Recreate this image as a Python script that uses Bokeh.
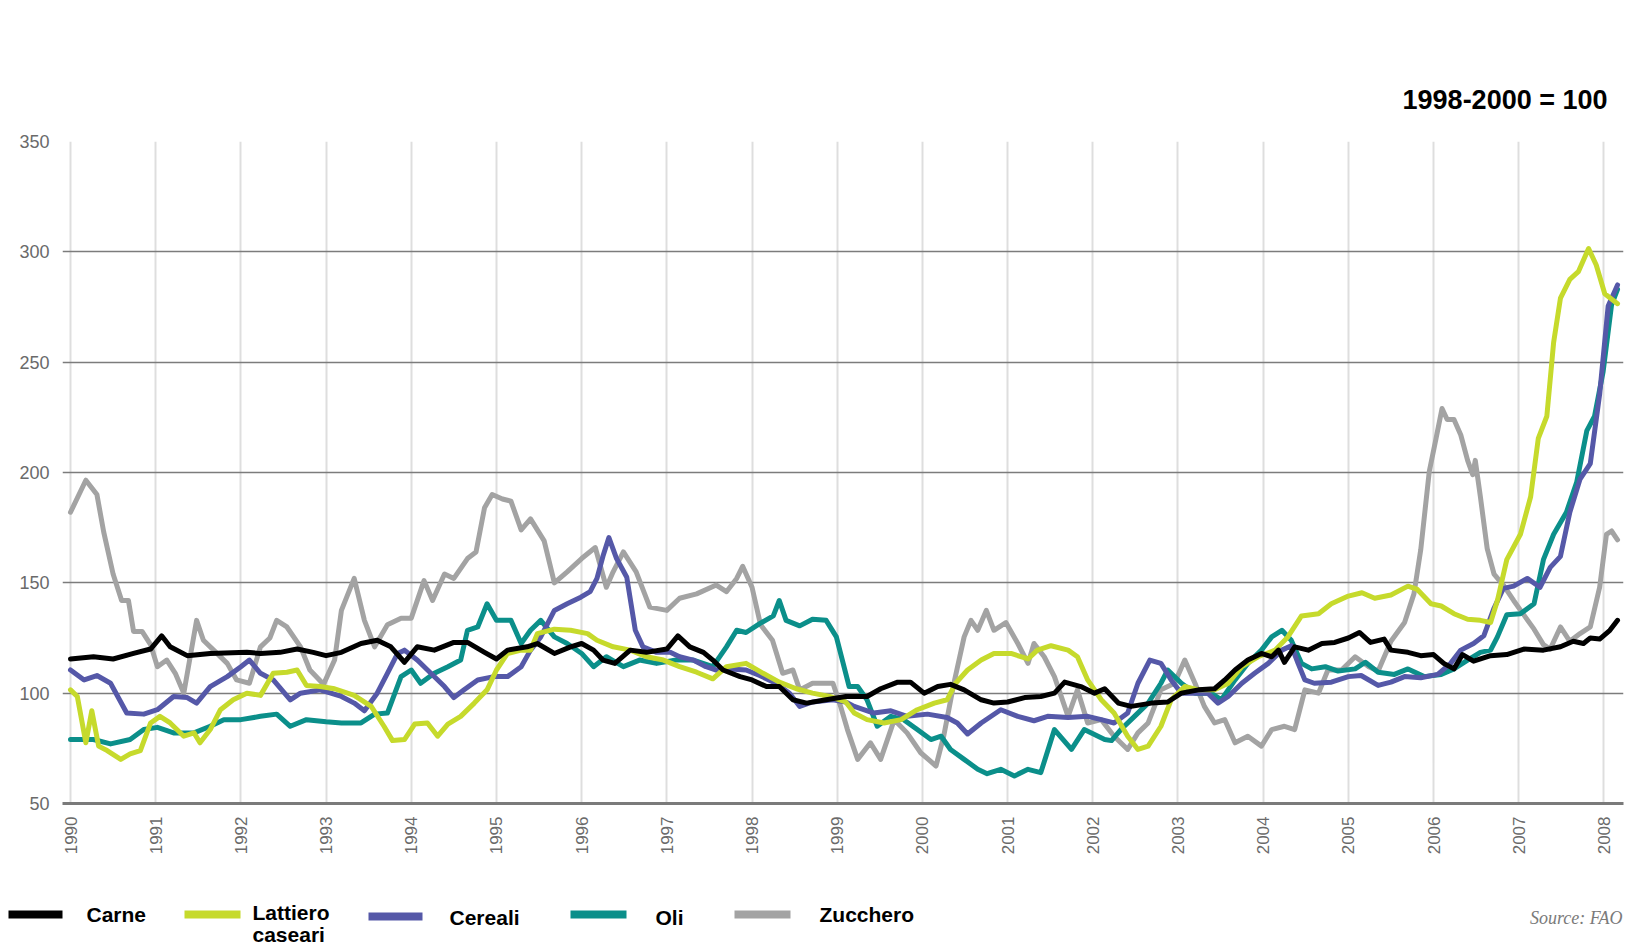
from bokeh.plotting import figure
from bokeh.layouts import column
from bokeh.models import FixedTicker, Range1d, Title
from bokeh.core.properties import value
from bokeh.embed import file_html
from bokeh.resources import INLINE

# ---------------- data (FAO food price indices, 1998-2000 = 100) ----------------
years = list(range(1990, 2009))
y_ticks = [50, 100, 150, 200, 250, 300, 350]

zucchero_t = [1990.00, 1990.18, 1990.31, 1990.39, 1990.50, 1990.60, 1990.68, 1990.74, 1990.84, 1990.94,
              1991.02, 1991.13, 1991.23, 1991.33, 1991.48, 1991.56, 1991.68, 1991.84, 1991.95, 1992.10,
              1992.23, 1992.34, 1992.42, 1992.54, 1992.70, 1992.81, 1992.97, 1993.10, 1993.18, 1993.33,
              1993.45, 1993.57, 1993.72, 1993.88, 1994.00, 1994.15, 1994.25, 1994.39, 1994.50, 1994.66,
              1994.76, 1994.86, 1994.95, 1995.07, 1995.17, 1995.29, 1995.40, 1995.56, 1995.68, 1995.83,
              1996.00, 1996.16, 1996.29, 1996.37, 1996.49, 1996.64, 1996.80, 1997.00, 1997.15, 1997.35,
              1997.58, 1997.70, 1997.82, 1997.89, 1998.00, 1998.10, 1998.24, 1998.36, 1998.48, 1998.56,
              1998.71, 1998.95, 1999.04, 1999.12, 1999.24, 1999.39, 1999.51, 1999.67, 1999.82, 1999.98,
              2000.16, 2000.25, 2000.37, 2000.49, 2000.57, 2000.65, 2000.75, 2000.84, 2000.98, 2001.12,
              2001.24, 2001.31, 2001.43, 2001.55, 2001.71, 2001.82, 2001.94, 2002.10, 2002.25, 2002.41,
              2002.53, 2002.65, 2002.80, 2002.96, 2003.08, 2003.20, 2003.31, 2003.43, 2003.55, 2003.67,
              2003.82, 2003.98, 2004.10, 2004.25, 2004.37, 2004.49, 2004.65, 2004.76, 2004.92, 2005.08,
              2005.24, 2005.35, 2005.50, 2005.66, 2005.77, 2005.85, 2005.95, 2006.03, 2006.10, 2006.16,
              2006.24, 2006.32, 2006.40, 2006.46, 2006.49, 2006.55, 2006.63, 2006.71, 2006.82, 2006.94,
              2007.06, 2007.18, 2007.29, 2007.37, 2007.49, 2007.60, 2007.72, 2007.84, 2007.95, 2008.03,
              2008.09, 2008.16]
zucchero_v = [182, 196.5, 190, 173, 154, 142, 142, 128, 128, 122,
              112, 115, 109, 100, 133, 124, 119.5, 113.5, 106, 104.5,
              121, 125, 133, 130, 121, 110.5, 104, 115, 137.5, 152,
              133, 121, 131, 134, 134, 151, 142, 154, 152, 161,
              164, 184, 190, 188, 187, 174, 179, 169, 150, 155,
              161, 166, 148, 155, 164, 155, 139, 137.5, 143, 145,
              149, 146, 152, 157.5, 148, 131, 124, 109, 110.5, 101.5,
              104.5, 104.5, 94, 83.5, 70, 77.5, 70, 88, 82, 73,
              67, 80.5, 104.5, 125.5, 133, 128.5, 137.5, 128.5, 132, 122.5,
              113.5, 122.5, 116.5, 107.5, 89.5, 101.5, 86.5, 88, 80.5, 74.5,
              82, 86.5, 101.5, 104.5, 115, 104.5, 94, 86.5, 88, 77.5,
              80.5, 76, 83.5, 85, 83.5, 101.5, 100, 110.5, 110.5, 116.5,
              112, 110, 123.5, 132, 145, 165, 200.5, 215.5, 229, 224,
              224, 217, 205.5, 199, 205.5, 189, 165.5, 154, 149, 142,
              135.5, 129, 122, 120, 130, 123.5, 127, 130, 148, 172,
              173.5, 169.5]

oli_t = [1990.00, 1990.27, 1990.47, 1990.70, 1990.86, 1991.02, 1991.21, 1991.45, 1991.64, 1991.80,
         1992.00, 1992.23, 1992.42, 1992.58, 1992.77, 1993.00, 1993.18, 1993.41, 1993.57, 1993.72,
         1993.88, 1994.00, 1994.11, 1994.27, 1994.43, 1994.58, 1994.66, 1994.78, 1994.89, 1995.00,
         1995.17, 1995.29, 1995.40, 1995.52, 1995.68, 1995.83, 1996.00, 1996.14, 1996.29, 1996.49,
         1996.68, 1996.88, 1997.11, 1997.31, 1997.54, 1997.70, 1997.82, 1997.93, 1998.09, 1998.25,
         1998.32, 1998.40, 1998.56, 1998.71, 1998.87, 1998.99, 1999.07, 1999.14, 1999.24, 1999.35,
         1999.47, 1999.63, 1999.78, 1999.94, 2000.10, 2000.22, 2000.33, 2000.49, 2000.65, 2000.76,
         2000.92, 2001.08, 2001.24, 2001.39, 2001.55, 2001.75, 2001.90, 2002.14, 2002.22, 2002.33,
         2002.49, 2002.65, 2002.80, 2002.88, 2003.04, 2003.20, 2003.39, 2003.51, 2003.67, 2003.82,
         2003.98, 2004.10, 2004.22, 2004.33, 2004.45, 2004.57, 2004.73, 2004.88, 2005.08, 2005.20,
         2005.35, 2005.54, 2005.70, 2005.89, 2006.09, 2006.24, 2006.40, 2006.55, 2006.67, 2006.75,
         2006.86, 2007.02, 2007.18, 2007.29, 2007.41, 2007.56, 2007.68, 2007.80, 2007.89, 2007.99,
         2008.09, 2008.16]
oli_v = [79, 79, 77, 79, 83.5, 84.5, 82, 82, 85, 88,
         88, 89.5, 90.5, 85, 88, 87, 86.5, 86.5, 90.5, 91,
         107.5, 110.5, 104.5, 109, 112, 115, 128.5, 130, 140.5, 133,
         133, 122.5, 128.5, 133, 125.5, 122.5, 118, 112, 116.5, 112,
         115, 113.5, 115, 115, 112, 121, 128.5, 127.5, 131.5, 135,
         142, 133, 130.5, 133.5, 133, 125.5, 113.5, 103, 103, 97,
         85, 89.5, 88, 83.5, 79, 80.5, 74.5, 70, 65.5, 63.5,
         65.5, 62.5, 65.5, 64, 83.5, 74.5, 83.5, 79, 78.5, 83.5,
         89.5, 95.5, 104.5, 110.5, 104.5, 100, 100, 97, 106, 113.5,
         119.5, 125.5, 128.5, 124, 113.5, 111, 112, 110, 111, 114,
         109.5, 108.5, 111, 107.5, 108.5, 111, 115, 118.5, 119.5, 125.5,
         135.5, 136, 140.5, 160.5, 172, 182, 195.5, 219, 225.5, 245.5,
         276, 283]

cereali_t = [1990.00, 1990.16, 1990.31, 1990.47, 1990.66, 1990.86, 1991.02, 1991.21, 1991.37, 1991.48,
             1991.64, 1991.84, 1992.00, 1992.10, 1992.23, 1992.38, 1992.58, 1992.70, 1992.93, 1993.18,
             1993.33, 1993.45, 1993.60, 1993.72, 1993.84, 1993.92, 1994.07, 1994.23, 1994.39, 1994.50,
             1994.62, 1994.78, 1994.97, 1995.13, 1995.29, 1995.40, 1995.52, 1995.68, 1995.83, 1995.99,
             1996.10, 1996.18, 1996.25, 1996.32, 1996.41, 1996.53, 1996.63, 1996.72, 1996.88, 1997.04,
             1997.15, 1997.31, 1997.46, 1997.58, 1997.74, 1997.93, 1998.09, 1998.28, 1998.44, 1998.56,
             1998.71, 1998.95, 1999.10, 1999.20, 1999.43, 1999.63, 1999.82, 2000.06, 2000.29, 2000.41,
             2000.53, 2000.69, 2000.92, 2001.12, 2001.31, 2001.47, 2001.71, 2001.94, 2002.10, 2002.25,
             2002.41, 2002.53, 2002.67, 2002.80, 2002.92, 2003.04, 2003.20, 2003.35, 2003.47, 2003.59,
             2003.75, 2003.90, 2004.06, 2004.22, 2004.33, 2004.41, 2004.49, 2004.60, 2004.80, 2005.00,
             2005.15, 2005.35, 2005.50, 2005.66, 2005.85, 2006.05, 2006.20, 2006.32, 2006.47, 2006.59,
             2006.71, 2006.82, 2006.94, 2007.10, 2007.25, 2007.37, 2007.49, 2007.60, 2007.72, 2007.84,
             2007.95, 2008.05, 2008.16]
cereali_v = [110.5, 106, 108, 104.5, 91, 90.5, 92.5, 98.5, 98, 95.5,
             103, 107.5, 112, 115, 109, 106, 97, 100, 101.5, 98.5,
             95.5, 92, 100, 109, 118, 119.5, 115, 109, 103, 98,
             101.5, 106, 107.5, 107.5, 112, 119.5, 125.5, 137.5, 140.5, 143.5,
             146, 152, 162, 170.5, 161, 152.5, 128.5, 121, 118.5, 118.5,
             116.5, 115, 112, 110.5, 111, 110.5, 108, 104.5, 100, 94,
             96, 97, 96, 94, 91, 92, 89.5, 90.5, 89, 86.5,
             81.5, 86.5, 92.5, 89.5, 87.5, 89.5, 89, 89.5, 88, 86.5,
             91, 104.5, 115, 113.5, 106, 100, 100, 100, 95.5, 98.5,
             104.5, 109, 113.5, 119.5, 121.5, 113.5, 106, 104.5, 105, 107.5,
             108, 103.5, 105, 107.5, 107, 108.5, 113.5, 119.5, 122.5, 126,
             138.5, 147.5, 148.5, 152, 148, 157, 162, 182, 197, 204,
             235.5, 275.5, 285]

lattiero_t = [1990.00, 1990.08, 1990.18, 1990.25, 1990.33, 1990.43, 1990.59, 1990.70, 1990.82, 1990.94,
              1991.05, 1991.17, 1991.33, 1991.45, 1991.52, 1991.64, 1991.76, 1991.91, 1992.07, 1992.23,
              1992.38, 1992.54, 1992.66, 1992.77, 1992.93, 1993.10, 1993.33, 1993.53, 1993.68, 1993.78,
              1993.92, 1994.04, 1994.19, 1994.31, 1994.43, 1994.58, 1994.74, 1994.89, 1995.00, 1995.13,
              1995.29, 1995.40, 1995.48, 1995.68, 1995.87, 1996.07, 1996.18, 1996.37, 1996.57, 1996.76,
              1996.96, 1997.15, 1997.35, 1997.54, 1997.70, 1997.93, 1998.13, 1998.32, 1998.52, 1998.71,
              1998.91, 1999.10, 1999.20, 1999.35, 1999.55, 1999.75, 1999.94, 2000.14, 2000.29, 2000.39,
              2000.53, 2000.69, 2000.84, 2001.04, 2001.24, 2001.35, 2001.51, 2001.71, 2001.82, 2001.94,
              2002.10, 2002.25, 2002.41, 2002.53, 2002.65, 2002.80, 2002.92, 2003.08, 2003.24, 2003.43,
              2003.59, 2003.75, 2003.94, 2004.14, 2004.29, 2004.45, 2004.65, 2004.80, 2005.00, 2005.16,
              2005.31, 2005.50, 2005.70, 2005.81, 2005.97, 2006.09, 2006.24, 2006.40, 2006.55, 2006.67,
              2006.75, 2006.86, 2007.02, 2007.14, 2007.23, 2007.33, 2007.41, 2007.49, 2007.60, 2007.70,
              2007.82, 2007.91, 2008.01, 2008.16]
lattiero_v = [101.5, 98.5, 77.5, 92, 76, 74, 70, 72.5, 74, 86.5,
              89.5, 86.5, 80.5, 82, 77.5, 83.5, 92.5, 97, 100, 99,
              109, 109.5, 110.5, 103.5, 103, 102, 99, 94, 85, 78.5,
              79, 86, 86.5, 80.5, 86, 89.5, 95.5, 101.5, 110.5, 118,
              119.5, 119.5, 127, 129, 128.5, 127, 124, 121, 119.5, 116.5,
              115, 112, 109.5, 106.5, 112, 113.5, 109, 105, 102, 100,
              98.5, 96, 91, 88, 86.5, 88, 92.5, 95.5, 97, 104.5,
              110.5, 115, 118, 118, 115.5, 119.5, 121.5, 119.5, 116.5, 106,
              97, 91, 80.5, 74.5, 76, 85, 97, 103, 101.5, 101.5,
              104.5, 112, 116.5, 119.5, 125.5, 135, 136, 140.5, 144, 145.5,
              143, 144.5, 148.5, 147, 140.5, 139.5, 136, 133.5, 133, 132,
              142, 160.5, 172, 189, 215.5, 225.5, 259, 279, 287.5, 291,
              301.5, 294, 281, 276.5]

carne_t = [1990.00, 1990.27, 1990.50, 1990.74, 1990.94, 1991.07, 1991.17, 1991.37, 1991.64, 1992.07,
           1992.23, 1992.46, 1992.66, 1992.85, 1993.00, 1993.18, 1993.41, 1993.60, 1993.76, 1993.92,
           1994.07, 1994.27, 1994.50, 1994.66, 1994.86, 1995.00, 1995.13, 1995.36, 1995.48, 1995.68,
           1995.87, 1996.00, 1996.14, 1996.25, 1996.39, 1996.57, 1996.76, 1997.00, 1997.13, 1997.27,
           1997.43, 1997.54, 1997.66, 1997.86, 1998.00, 1998.17, 1998.32, 1998.48, 1998.64, 1998.87,
           1999.10, 1999.35, 1999.51, 1999.71, 1999.86, 2000.02, 2000.18, 2000.33, 2000.49, 2000.69,
           2000.84, 2001.00, 2001.20, 2001.39, 2001.55, 2001.67, 2001.86, 2002.02, 2002.14, 2002.30,
           2002.45, 2002.69, 2002.88, 2003.04, 2003.24, 2003.43, 2003.55, 2003.67, 2003.82, 2003.98,
           2004.10, 2004.18, 2004.25, 2004.37, 2004.53, 2004.69, 2004.84, 2005.00, 2005.13, 2005.26,
           2005.42, 2005.50, 2005.70, 2005.85, 2006.00, 2006.12, 2006.24, 2006.34, 2006.47, 2006.67,
           2006.86, 2007.06, 2007.29, 2007.49, 2007.64, 2007.76, 2007.84, 2007.95, 2008.07, 2008.16]
carne_v = [115.5, 116.5, 115.5, 118, 120, 126, 121, 117, 118, 118.5,
           118, 118.5, 120, 118.5, 117, 118.5, 122.5, 124, 121, 114,
           121, 119.5, 123, 123, 118.5, 115.5, 119.5, 121, 122.5, 118,
           121, 122.5, 119.5, 115, 113.5, 119.5, 118.5, 120, 126, 121,
           118.5, 115, 110.5, 107.5, 106, 103, 103, 97, 95.5, 97,
           98.5, 98.5, 102, 105, 105, 100, 103, 104, 101.5, 97,
           95.5, 96, 98, 98.5, 100, 105, 103, 100, 102, 95.5,
           94, 95.5, 96, 100, 101.5, 102, 106, 110.5, 115, 118,
           116.5, 119.5, 114, 121, 119.5, 122.5, 123, 125, 127.5, 123,
           124.5, 119.5, 118.5, 117, 117.5, 113.5, 111, 117.5, 114.5, 117,
           117.5, 120, 119.5, 121, 123.5, 122.5, 125, 124.5, 128.5, 133]

series_names = ["Carne", "Lattiero\ncaseari", "Cereali", "Oli", "Zucchero"]
series_colors = ["#000000", "#c6da2c", "#5558a8", "#0b8f8a", "#a3a3a3"]
series_data = [(carne_t, carne_v), (lattiero_t, lattiero_v), (cereali_t, cereali_v),
               (oli_t, oli_v), (zucchero_t, zucchero_v)]

TICK_FONT = "Liberation Sans"

# ---------------- main chart ----------------
p = figure(frame_width=1561, frame_height=662, output_backend="svg", toolbar_location=None,
           x_range=Range1d(1989.906, 2008.23), y_range=Range1d(50, 350),
           min_border_left=62, min_border_right=2, min_border_top=141, min_border_bottom=67,
           background_fill_color="white", border_fill_color="white")
p.outline_line_color = None

p.add_layout(Title(text="1998-2000 = 100", align="right", offset=16, standoff=53,
                   text_font="Liberation Sans", text_font_style="bold",
                   text_font_size="27px", text_color="#000000"), "above")

p.xaxis.ticker = FixedTicker(ticks=years)
p.xaxis.major_label_orientation = 1.5707963
p.xaxis.major_label_text_font = TICK_FONT
p.xaxis.major_label_text_font_size = "17px"
p.xaxis.major_label_text_color = "#6a6a6a"
p.xaxis.major_label_standoff = 7
p.xaxis.axis_line_color = "#7a7a7a"
p.xaxis.axis_line_width = 3
p.xaxis.major_tick_line_color = None
p.xaxis.minor_tick_line_color = None

p.yaxis.ticker = FixedTicker(ticks=y_ticks)
p.yaxis.major_label_text_font = TICK_FONT
p.yaxis.major_label_text_font_size = "18px"
p.yaxis.major_label_text_color = "#6a6a6a"
p.yaxis.major_label_standoff = 7
p.yaxis.axis_line_color = None
p.yaxis.major_tick_line_color = None
p.yaxis.minor_tick_line_color = None

p.xgrid.ticker = FixedTicker(ticks=years)
p.xgrid.grid_line_color = "#dedede"
p.xgrid.grid_line_width = 2
p.ygrid.ticker = FixedTicker(ticks=y_ticks[1:])
p.ygrid.grid_line_color = "#7c7c7c"
p.ygrid.grid_line_width = 1.6

# draw order bottom -> top: Zucchero, Oli, Cereali, Lattiero, Carne
for i in [4, 3, 2, 1, 0]:
    t, v = series_data[i]
    p.line(t, v, line_color=series_colors[i], line_width=5, line_join="round", line_cap="round")

# ---------------- legend strip (page pixel coordinates, y downward) ----------------
lg = figure(width=1625, height=80, output_backend="svg", toolbar_location=None,
            x_range=Range1d(0, 1625), y_range=Range1d(950, 870),
            x_axis_type=None, y_axis_type=None,
            min_border=0, background_fill_color="white", border_fill_color="white")
lg.grid.visible = False
lg.outline_line_color = None
if "frame_align" in lg.properties():
    lg.frame_align = False

sw_x0 = [8, 184, 368, 570, 734]
sw_x1 = [62, 240, 422, 626, 790]
sw_y = [914, 914, 916, 914, 914]
lab_x = [86, 252, 449, 655, 819]
lab_y = [902, 900, 905, 905, 902]
lg.segment(x0=sw_x0, y0=sw_y, x1=sw_x1, y1=sw_y, line_color=series_colors, line_width=8)
lg.text(x=lab_x, y=lab_y, text=series_names, text_font=value("Liberation Sans"),
        text_font_style="bold", text_font_size="21px", text_color="#000000",
        text_baseline="top", text_align="left", text_line_height=0.98)
lg.text(x=[1622], y=[917], text=["Source: FAO"], text_font=value("Liberation Sans Narrow"),
        text_font_style="italic", text_font_size="18px", text_color="#7a7a7a",
        text_baseline="middle", text_align="right")

layout = column(p, lg, spacing=0)
open("out.html", "w").write(file_html(layout, INLINE))
